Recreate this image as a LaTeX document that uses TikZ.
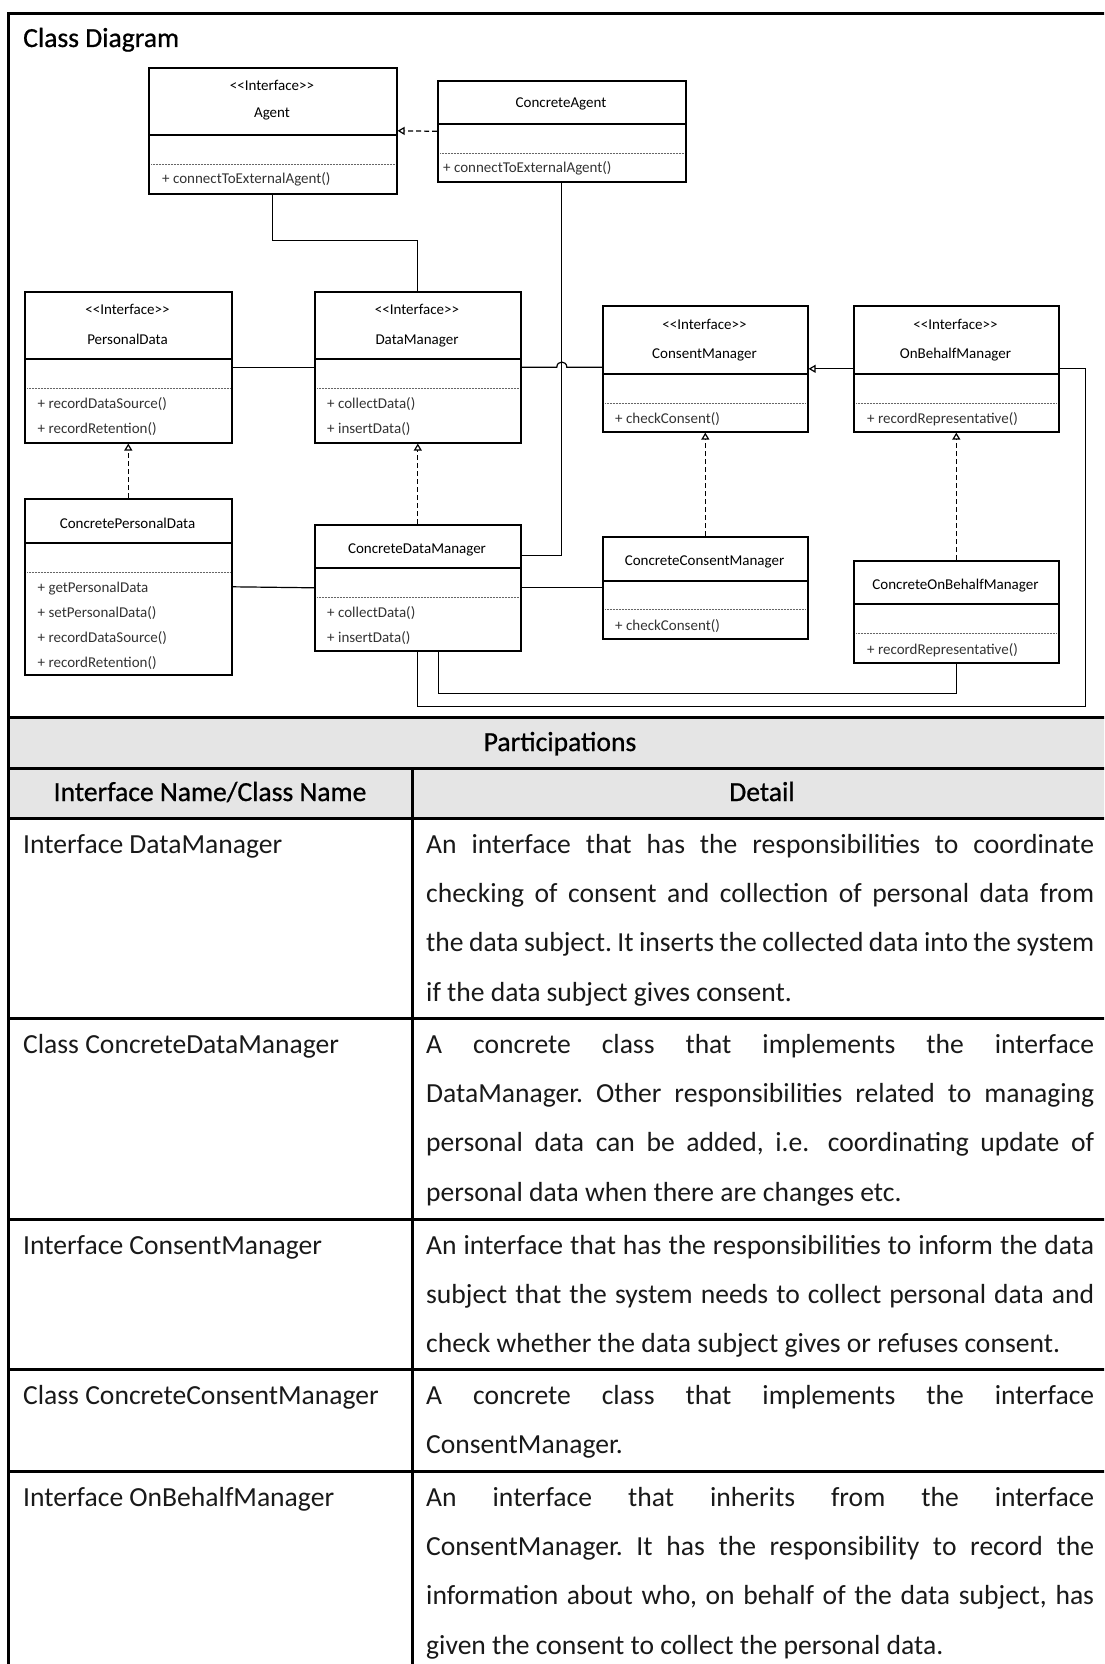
\documentclass[tikz,border=0pt]{standalone}
\usepackage{fontspec}
\setmainfont{Carlito}
\newfontfamily\headfont[FakeBold=0.8]{Carlito}
\usetikzlibrary{arrows.meta,calc}

\newcommand\umlfont{\fontsize{15}{18}\selectfont}
\newcommand\tblfont{\fontsize{27.6}{49.3}\selectfont}
\newcommand\hdfont{\headfont\fontsize{27.6}{33}\selectfont}
\newcommand\stereo{{<}{<}Interface{>}{>}}

% class box: name, x, y, width, height, header rule offset, dotted rule offset
\newcommand\umlclass[7]{%
  \node[classbox, minimum width=#4pt, minimum height=#5pt] (#1) at (#2,#3) {};
  \draw[sepline] ($(#1.north west)+(0,#6)$) -- ($(#1.north east)+(0,#6)$);
  \draw[dotline] ($(#1.north west)+(3,#7)$) -- ($(#1.north east)+(-3,#7)$);
}

\tikzset{
  classbox/.style={draw, line width=1.6pt, inner sep=0pt, anchor=north west},
  sepline/.style={line width=1.6pt},
  dotline/.style={line width=0.7pt, black!60, dash pattern=on 0.7pt off 0.8pt},
  conn/.style={line width=1.2pt},
  realize/.style={conn, dash pattern=on 5pt off 3pt,
    -{Triangle[open, length=7pt, width=8pt]}},
  generalize/.style={conn, -{Triangle[open, length=7pt, width=8pt]}},
  umltxt/.style={font=\umlfont, inner sep=0pt, anchor=base},
  umlop/.style={font=\umlfont, inner sep=0pt, anchor=base west, text=black!80},
  rule/.style={line width=3pt},
  head/.style={font=\hdfont, inner sep=0pt, anchor=base},
  cellname/.style={font=\tblfont, inner sep=0pt, anchor=base west, text=black!90},
  detail/.style={anchor=north west, inner sep=0pt, text width=668pt,
    align=justify, font=\tblfont, text=black!90},
}

\begin{document}
\frenchspacing
\begin{tikzpicture}[x=1pt, y=-1pt]
\useasboundingbox (0,0) rectangle (1104,1664);
\clip (0,0) rectangle (1104,1664);

% frame and table rules
\fill[black!10] (8,717) rectangle (1112,818);
\draw[rule] (1112,14) -- (8,14) -- (8,1670);
\foreach \yy in {717,768,818,1018,1219,1369,1471}
  \draw[rule] (8,\yy) -- (1112,\yy);
\draw[rule] (412,768) -- (412,1670);

\node[anchor=base west, inner sep=0pt, font=\hdfont] (title) at (23,47) {Class Diagram};

% classes
\umlclass{agent}{148}{67}{248}{126}{68}{97}
\node[umltxt] (agentst) at (272,91) {\stereo};
\node[umltxt] (agentnm) at (272,118) {Agent};
\node[umlop] (agentop) at (162,184) {+ connectToExternalAgent()};

\umlclass{cagent}{437}{80}{248}{101}{44}{73}
\node[umltxt] (cagentnm) at (561,108) {ConcreteAgent};
\node[umlop] (cagentop) at (443,173) {+ connectToExternalAgent()};

\umlclass{pd}{24}{291}{207}{151}{68}{97}
\node[umltxt] (pdst) at (127.5,314) {\stereo};
\node[umltxt] (pdnm) at (127.5,344) {PersonalData};
\node[umlop] (pdopa) at (37.5,408) {+ recordDataSource()};
\node[umlop] (pdopb) at (37.5,433) {+ recordRetention()};

\umlclass{dm}{314}{291}{206}{151}{68}{97}
\node[umltxt] (dmst) at (417,314) {\stereo};
\node[umltxt] (dmnm) at (417,344) {DataManager};
\node[umlop] (dmopa) at (327,408) {+ collectData()};
\node[umlop] (dmopb) at (327,433) {+ insertData()};

\umlclass{cpd}{24}{498}{207}{176}{45}{74}
\node[umltxt] (cpdnm) at (127.5,528) {ConcretePersonalData};
\node[umlop] (cpdopa) at (37.5,592) {+ getPersonalData};
\node[umlop] (cpdopb) at (37.5,617) {+ setPersonalData()};
\node[umlop] (cpdopc) at (37.5,642) {+ recordDataSource()};
\node[umlop] (cpdopd) at (37.5,667) {+ recordRetention()};

\umlclass{cdm}{314}{524}{206}{126}{44}{73}
\node[umltxt] (cdmnm) at (417,553) {ConcreteDataManager};
\node[umlop] (cdmopa) at (327,617) {+ collectData()};
\node[umlop] (cdmopb) at (327,642) {+ insertData()};

\umlclass{cm}{602}{305}{205}{126}{69}{98}
\node[umltxt] (cmst) at (704.5,329) {\stereo};
\node[umltxt] (cmnm) at (704.5,358) {ConsentManager};
\node[umlop] (cmop) at (615,423) {+ checkConsent()};

\umlclass{obm}{853}{305}{205}{126}{69}{98}
\node[umltxt] (obmst) at (955.5,329) {\stereo};
\node[umltxt] (obmnm) at (955.5,358) {OnBehalfManager};
\node[umlop] (obmop) at (867,423) {+ recordRepresentative()};

\umlclass{ccm}{602}{536}{205}{102}{45}{73}
\node[umltxt] (ccmnm) at (704.5,565) {ConcreteConsentManager};
\node[umlop] (ccmop) at (615,630) {+ checkConsent()};

\umlclass{cobm}{853}{560}{205}{102}{44}{73}
\node[umltxt] (cobmnm) at (955.5,589) {ConcreteOnBehalfManager};
\node[umlop] (cobmop) at (867,654) {+ recordRepresentative()};

% relationships
\draw[realize] (cagent.west) -- (agent.east);
\draw[conn] (agent.south) -- ++(0,46) -| (dm.north);
\draw[conn] (pd.east) -- (dm.west);
\coordinate (hop) at (cagent.south |- dm.east);
\draw[conn] (dm.east) -- ([xshift=-5pt]hop)
  .. controls ([xshift=-5pt,yshift=7pt]hop) and ([xshift=5pt,yshift=7pt]hop) ..
  ([xshift=5pt]hop) -- (cm.west |- dm.east);
\draw[conn] (cagent.south) |- ([yshift=32pt]cdm.east);
\draw[generalize] (obm.west) -- (cm.east);
\draw[realize] (cpd.north) -- (pd.south);
\draw[realize] (cdm.north) -- (dm.south);
\draw[realize] (ccm.north) -- (cm.south);
\draw[realize] (cobm.north) -- (obm.south);
\draw[conn] (cpd.east) -- (cdm.west);
\draw[conn] (cdm.east) -- (ccm.west);
\draw[conn] ([xshift=20.5pt]cdm.south) -- ++(0,42) -| (cobm.south);
\draw[conn] (cdm.south) -- ++(0,55) -| ([xshift=26pt]obm.east) -- (obm.east);

% participations table
\node[head] (parti) at (560,751) {Participations};
\node[head] (hname) at (210,801) {Interface Name/Class Name};
\node[head] (hdetail) at (762,801) {Detail};

\node[cellname] (n1) at (23,853) {Interface DataManager};
\node[detail] (d1) at (426,818.5) {\strut An interface that has the responsibilities to coordinate\linebreak
checking of consent and collection of personal data from\linebreak
the data subject. It inserts the collected data into the system\linebreak
if the data subject gives consent.};

\node[cellname] (n2) at (23,1053) {Class ConcreteDataManager};
\node[detail] (d2) at (426,1018.5) {\strut A concrete class that implements the interface\linebreak
DataManager. Other responsibilities related to managing\linebreak
personal data can be added, i.e.\hspace{0.25em} coordinating update of\linebreak
personal data when there are changes etc.};

\node[cellname] (n3) at (23,1254) {Interface ConsentManager};
\node[detail] (d3) at (426,1219.5) {\strut An interface that has the responsibilities to inform the data\linebreak
subject that the system needs to collect personal data and\linebreak
check whether the data subject gives or refuses consent.};

\node[cellname] (n4) at (23,1404) {Class ConcreteConsentManager};
\node[detail] (d4) at (426,1369.5) {\strut A concrete class that implements the interface\linebreak
ConsentManager.};

\node[cellname] (n5) at (23,1506) {Interface OnBehalfManager};
\node[detail] (d5) at (426,1471.5) {\strut An interface that inherits from the interface\linebreak
ConsentManager. It has the responsibility to record the\linebreak
information about who, on behalf of the data subject, has\linebreak
given the consent to collect the personal data.};
\end{tikzpicture}
\end{document}
